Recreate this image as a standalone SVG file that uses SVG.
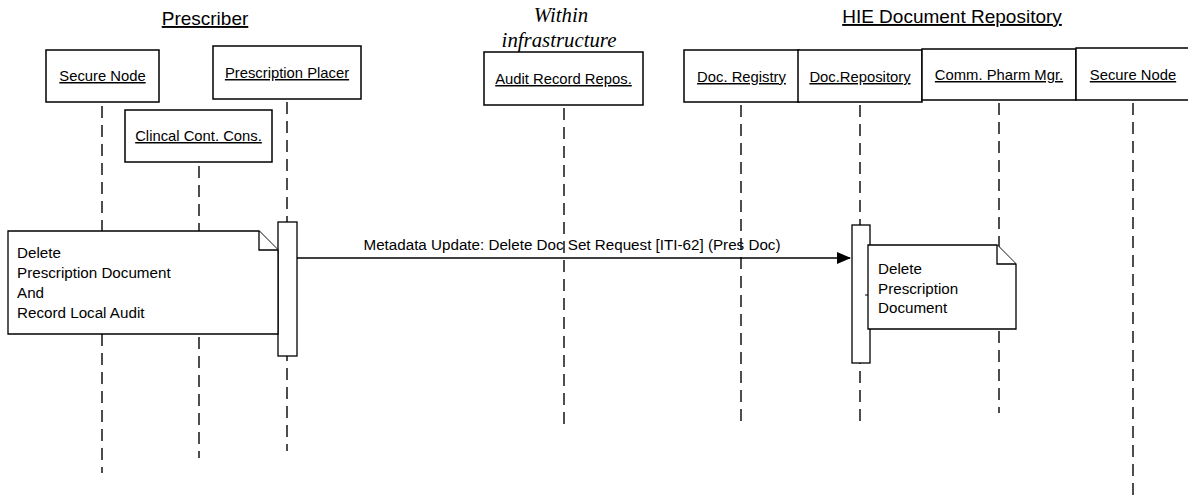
<svg xmlns="http://www.w3.org/2000/svg" width="1188" height="497" viewBox="0 0 1188 497">
  <defs>
    <marker id="arrowSolid" markerWidth="14" markerHeight="12" refX="13" refY="6" orient="auto" markerUnits="userSpaceOnUse">
      <path d="M0,0 L14,6 L0,12 Z" fill="#000"/>
    </marker>
    <style>
      .box { fill: #fff; stroke: #000; stroke-width: 1.5; }
      .life { stroke: #222; stroke-width: 1.6; stroke-dasharray: 12 7; fill: none; }
      .act { fill: #fff; stroke: #000; stroke-width: 1.3; }
      .note { fill: #fff; stroke: #000; stroke-width: 1.3; stroke-linejoin: miter; }
      .lbl { font-family: "Liberation Sans", Arial, sans-serif; font-size: 14.8px; fill: #000; text-anchor: middle; text-decoration: underline; }
      .title { font-family: "Liberation Sans", Arial, sans-serif; font-size: 19px; fill: #000; text-anchor: middle; text-decoration: underline; }
      .ital { font-family: "Liberation Serif", "Times New Roman", serif; font-style: italic; font-size: 20.8px; fill: #000; text-anchor: middle; }
      .txt { font-family: "Liberation Sans", Arial, sans-serif; font-size: 15.2px; fill: #000; }
      .msg { font-family: "Liberation Sans", Arial, sans-serif; font-size: 15.2px; fill: #000; text-anchor: middle; }
    </style>
  </defs>

  <!-- group headings -->
  <text class="title" x="205" y="25">Prescriber</text>
  <text class="ital" x="561" y="22">Within</text>
  <text class="ital" x="559" y="47">infrastructure</text>
  <text class="title" x="952" y="23">HIE Document Repository</text>

  <!-- lifelines -->
  <g id="lifelines">
    <line class="life" x1="102" y1="106" x2="102" y2="473"/>
    <line class="life" x1="199" y1="166" x2="199" y2="458"/>
    <line class="life" x1="287" y1="102" x2="287" y2="451"/>
    <line class="life" x1="564" y1="108" x2="564" y2="428"/>
    <line class="life" x1="741" y1="105" x2="741" y2="428"/>
    <line class="life" x1="860" y1="105" x2="860" y2="424"/>
    <line class="life" x1="999" y1="103" x2="999" y2="413"/>
    <line class="life" x1="1133" y1="103" x2="1133" y2="497"/>
  </g>

  <!-- participants -->
  <g id="secure-node-left">
    <rect class="box" x="46" y="50" width="113" height="52"/>
    <text class="lbl" x="102.5" y="81">Secure Node</text>
  </g>
  <g id="prescription-placer">
    <rect class="box" x="213" y="46" width="148" height="53"/>
    <text class="lbl" x="287" y="78">Prescription Placer</text>
  </g>
  <g id="clinical-cont-cons">
    <rect class="box" x="125" y="110" width="147" height="52"/>
    <text class="lbl" x="198.5" y="141">Clincal Cont. Cons.</text>
  </g>
  <g id="audit-record-repos">
    <rect class="box" x="484" y="52" width="159" height="53"/>
    <text class="lbl" x="563.5" y="84">Audit Record Repos.</text>
  </g>
  <g id="doc-registry">
    <rect class="box" x="684" y="50" width="115" height="52"/>
    <text class="lbl" x="741.5" y="82">Doc. Registry</text>
  </g>
  <g id="doc-repository">
    <rect class="box" x="798" y="50" width="124" height="52"/>
    <text class="lbl" x="860" y="82">Doc.Repository</text>
  </g>
  <g id="comm-pharm-mgr">
    <rect class="box" x="922" y="49" width="154" height="51"/>
    <text class="lbl" x="999" y="80">Comm. Pharm Mgr.</text>
  </g>
  <g id="secure-node-right">
    <rect class="box" x="1076" y="48" width="116" height="52"/>
    <text class="lbl" x="1133" y="80">Secure Node</text>
  </g>

  <!-- activation bars -->
  <g id="activation-placer">
    <rect class="act" x="278" y="222" width="19" height="134"/>
  </g>
  <g id="activation-repository">
    <rect class="act" x="852" y="225" width="18" height="138"/>
    <line x1="865" y1="295" x2="868" y2="295" stroke="#000" stroke-width="1"/>
  </g>

  <!-- notes -->
  <g id="note-local-delete">
    <path class="note" d="M8,231 L259,231 L278,250 L278,334 L8,334 Z"/>
    <path class="note" d="M259,231 L259,250 L278,250" fill="none"/>
    <text class="txt" x="17" y="258">Delete</text>
    <text class="txt" x="17" y="278">Prescription Document</text>
    <text class="txt" x="17" y="298">And</text>
    <text class="txt" x="17" y="318">Record Local Audit</text>
  </g>
  <g id="note-repository-delete">
    <path class="note" d="M868,245 L997,245 L1016,264 L1016,329 L868,329 Z"/>
    <path class="note" d="M997,245 L997,264 L1016,264" fill="none"/>
    <text class="txt" x="878" y="274">Delete</text>
    <text class="txt" x="878" y="294">Prescription</text>
    <text class="txt" x="878" y="313">Document</text>
  </g>

  <!-- connectors -->
  <g id="connectors">
    <line x1="297" y1="258" x2="850" y2="258" stroke="#000" stroke-width="1.3" marker-end="url(#arrowSolid)"/>
    <text class="msg" x="572" y="250">Metadata Update: Delete Doc Set Request [ITI-62] (Pres Doc)</text>
  </g>
</svg>
